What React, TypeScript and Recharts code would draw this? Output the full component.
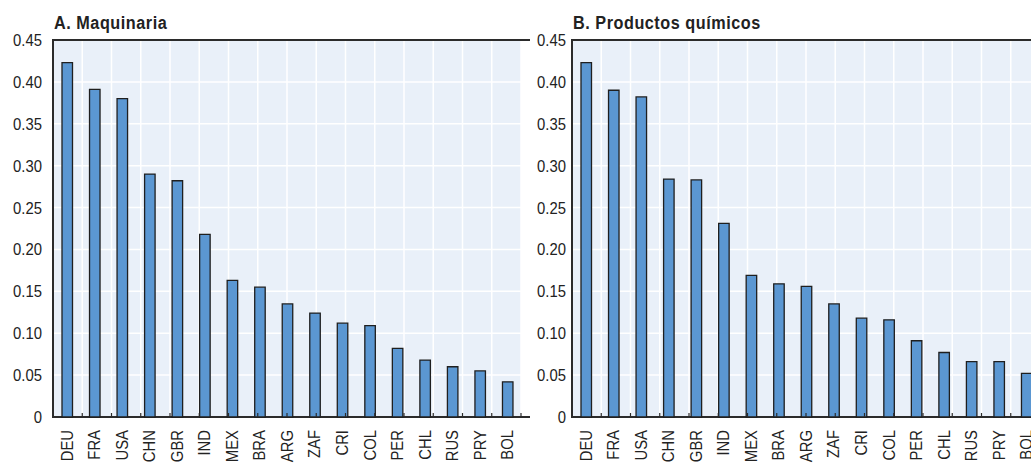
import {
  BarChart,
  Bar,
  XAxis,
  YAxis,
  CartesianGrid,
  ReferenceArea,
  ReferenceLine,
} from "recharts";

const countries = [
  "DEU", "FRA", "USA", "CHN", "GBR", "IND", "MEX", "BRA", "ARG",
  "ZAF", "CRI", "COL", "PER", "CHL", "RUS", "PRY", "BOL",
];
const maquinaria = [
  0.423, 0.391, 0.38, 0.29, 0.282, 0.218, 0.163, 0.155, 0.135,
  0.124, 0.112, 0.109, 0.082, 0.068, 0.06, 0.055, 0.042,
];
const quimicos = [
  0.423, 0.39, 0.382, 0.284, 0.283, 0.231, 0.169, 0.159, 0.156,
  0.135, 0.118, 0.116, 0.091, 0.077, 0.066, 0.066, 0.052,
];
const yTicks = [0, 0.05, 0.1, 0.15, 0.2, 0.25, 0.3, 0.35, 0.4, 0.45];
// band boundaries between countries (1..16)
const boundaryTicks = countries.slice(1).map((_, i) => i + 1);

const FONT = '"Liberation Sans", Arial, sans-serif';
const FRAME = "#2b2b2b";
const SQUEEZE = 0.9; // fake a condensed face

function CountryTick({ x, y, payload }: any) {
  return (
    <text
      transform={`translate(${x},${y}) rotate(-90) scale(${SQUEEZE},1)`}
      textAnchor="end"
      dy="0.36em"
      fontSize={16.5}
      fontFamily={FONT}
      fill="#222"
    >
      {payload.value}
    </text>
  );
}

function ValueTick({ x, y, payload }: any) {
  const v = payload.value as number;
  return (
    <text
      transform={`translate(${x},${y}) scale(${SQUEEZE},1)`}
      textAnchor="end"
      dy="0.36em"
      fontSize={16.5}
      fontFamily={FONT}
      fill="#222"
    >
      {v === 0 ? "0" : v.toFixed(2)}
    </text>
  );
}

// short tick pointing up from the bottom axis
function InnerTick(props: any) {
  const { x1, y1, y2 } = props;
  const bottom = Math.max(y1, y2);
  return <line x1={x1} x2={x1} y1={bottom} y2={bottom - 4} stroke={FRAME} strokeWidth={1.2} />;
}

interface PanelProps {
  title: string;
  values: number[];
  left: number;
  width: number;
  axisWidth: number;
  labelGap: number;
  marginRight: number;
}

function Panel({ title, values, left, width, axisWidth, labelGap, marginRight }: PanelProps) {
  const data = countries.map((c, i) => ({ country: c, value: values[i] }));
  return (
    <div style={{ position: "absolute", left, top: 0, width, height: 464 }}>
      <div
        style={{
          position: "absolute",
          left: axisWidth + 1,
          top: 14,
          fontFamily: FONT,
          fontWeight: "bold",
          fontSize: 18,
          lineHeight: "18px",
          letterSpacing: 0.6,
          color: "#222",
          whiteSpace: "nowrap",
          transform: `scaleX(${SQUEEZE})`,
          transformOrigin: "0 0",
        }}
      >
        {title}
      </div>
      <BarChart
        width={width}
        height={464}
        data={data}
        margin={{ top: 40, right: marginRight, left: 0, bottom: 0 }}
        barSize={10.5}
      >
        <CartesianGrid
          xAxisId="bounds"
          stroke="#ffffff"
          strokeWidth={1.5}
          fill="#e9f0f9"
          fillOpacity={1}
        />
        <XAxis
          xAxisId="bounds"
          type="number"
          domain={[0, countries.length]}
          allowDataOverflow
          ticks={boundaryTicks}
          interval={0}
          height={0}
          axisLine={false}
          tickLine={false}
          tickFormatter={() => ""}
        />
        <XAxis
          dataKey="country"
          height={47}
          interval={0}
          tickSize={0}
          tickMargin={13}
          tickLine={false}
          axisLine={false}
          tick={<CountryTick />}
        />
        <YAxis
          domain={[0, 0.45]}
          ticks={yTicks}
          interval={0}
          width={axisWidth}
          tickSize={0}
          tickMargin={labelGap}
          tickLine={false}
          axisLine={false}
          tick={<ValueTick />}
        />
        <Bar
          dataKey="value"
          fill="#5b97d2"
          stroke="#1f1f1f"
          strokeWidth={1.3}
          isAnimationActive={false}
        />
        {boundaryTicks.map((b) => (
          <ReferenceLine
            key={b}
            xAxisId="bounds"
            x={b}
            ifOverflow="visible"
            shape={<InnerTick />}
          />
        ))}
        <ReferenceArea
          xAxisId="bounds"
          x1={0}
          x2={countries.length}
          y1={0}
          y2={0.45}
          ifOverflow="visible"
          fill="none"
          fillOpacity={0}
          stroke={FRAME}
          strokeWidth={2}
          strokeOpacity={1}
        />
      </BarChart>
    </div>
  );
}

export default function App() {
  return (
    <div
      style={{
        position: "absolute",
        left: 0,
        top: 0,
        width: 1031,
        height: 464,
        overflow: "hidden",
        background: "#fff",
      }}
    >
      <Panel
        title="A. Maquinaria"
        values={maquinaria}
        left={0}
        width={530}
        axisWidth={53}
        labelGap={11}
        marginRight={9}
      />
      <Panel
        title="B. Productos químicos"
        values={quimicos}
        left={520}
        width={522}
        axisWidth={52}
        labelGap={6}
        marginRight={2}
      />
    </div>
  );
}
